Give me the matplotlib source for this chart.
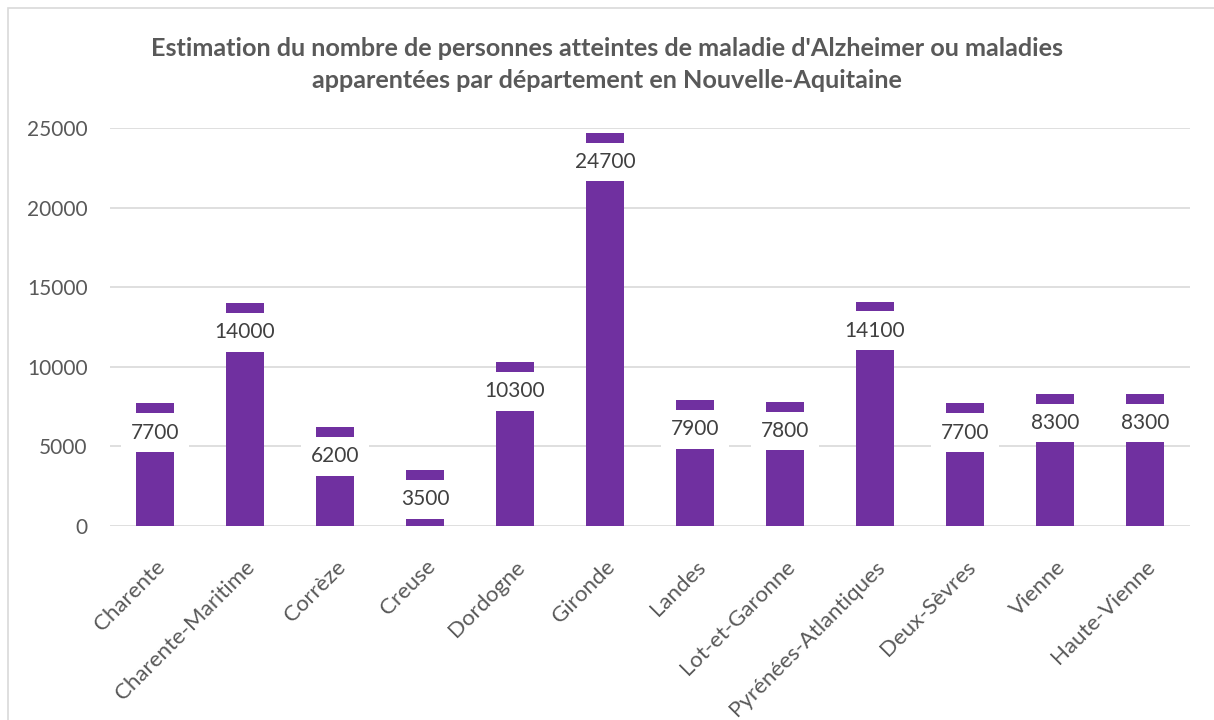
import matplotlib
matplotlib.use("Agg")
import matplotlib.pyplot as plt
from matplotlib.patches import Rectangle

departements = ["Charente", "Charente-Maritime", "Corrèze", "Creuse", "Dordogne",
                "Gironde", "Landes", "Lot-et-Garonne", "Pyrénées-Atlantiques",
                "Deux-Sèvres", "Vienne", "Haute-Vienne"]
malades = [7700, 14000, 6200, 3500, 10300, 24700, 7900, 7800, 14100, 7700, 8300, 8300]
yticks = [0, 5000, 10000, 15000, 20000, 25000]

purple = "#7030A0"
grey = "#595959"
plt.rcParams["font.family"] = ["Lato", "DejaVu Sans"]

fig = plt.figure(figsize=(12.14, 7.2), dpi=100)
ax = fig.add_axes([110 / 1214, 1 - 526 / 720, 1080 / 1214, 398 / 720])

# chart border (Excel chart area)
fig.add_artist(Rectangle((8 / 1214, -0.1), 1.2, 1.1 - 8 / 720, transform=fig.transFigure,
                         fill=False, edgecolor="#D9D9D9", linewidth=1.2))

x = range(len(departements))
ax.bar(x, malades, width=0.42, color=purple, zorder=2)

for xi, v in zip(x, malades):
    ax.annotate(str(v), (xi, v), xytext=(0, -21), textcoords="offset points",
                ha="center", va="center", fontsize=15, color="#404040", zorder=3,
                bbox=dict(boxstyle="square,pad=0.45", fc="white", ec="none"),
                annotation_clip=False)

ax.set_xlim(-0.5, len(departements) - 0.5)
ax.set_ylim(0, 25000)
ax.set_yticks(yticks)
ax.set_yticklabels([str(t) for t in yticks], fontsize=15, color=grey)
ax.set_xticks(list(x))
ax.set_xticklabels(departements, rotation=45, ha="right", rotation_mode="anchor",
                   fontsize=16, color=grey)
ax.tick_params(axis="y", length=0, pad=16)
ax.tick_params(axis="x", length=0, pad=22)
ax.grid(axis="y", color="#D9D9D9", linewidth=1.2, zorder=0)
for s in ax.spines.values():
    s.set_visible(False)

fig.text(0.5, 1 - 48 / 720, "Estimation du nombre de personnes atteintes de maladie d'Alzheimer ou maladies",
         ha="center", va="center", fontsize=18.2, fontweight="bold", color=grey)
fig.text(0.5, 1 - 80 / 720, "apparentées par département en Nouvelle-Aquitaine",
         ha="center", va="center", fontsize=18.2, fontweight="bold", color=grey)

fig.savefig("out.png", dpi=100, facecolor="white")
